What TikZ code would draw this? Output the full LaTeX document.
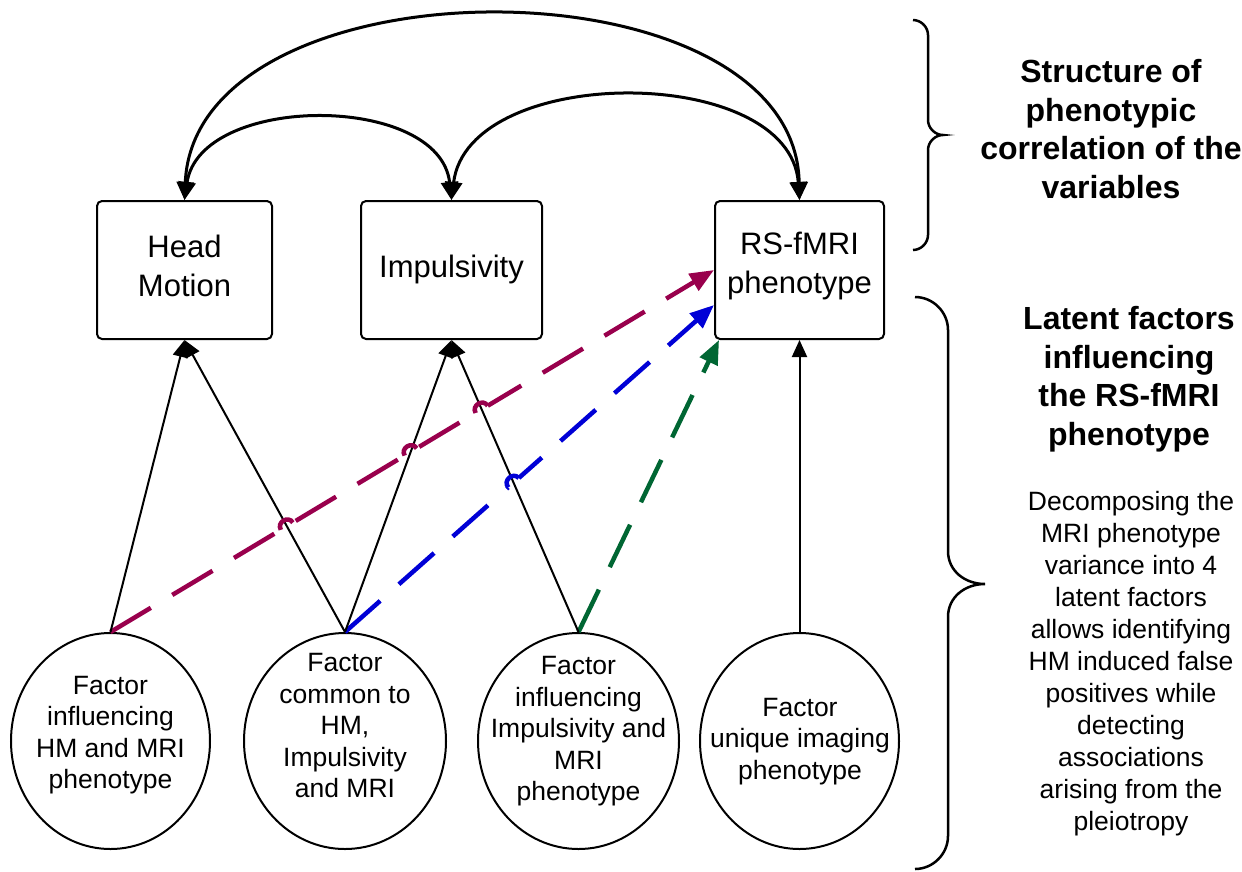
\documentclass[tikz,border=0pt]{standalone}
\usepackage{fontspec}
\setmainfont{Liberation Sans}
\usetikzlibrary{arrows.meta,calc,intersections,shapes.geometric}
\definecolor{magC}{RGB}{153,0,77}
\definecolor{bluC}{RGB}{0,0,214}
\definecolor{grnC}{RGB}{0,102,51}
\begin{document}
\begin{tikzpicture}[x=1pt,y=-1pt,
  box/.style={draw,line width=2pt,rounded corners=5pt,minimum height=138pt,inner sep=0pt},
  btxt/.style={align=center,inner sep=0pt,font=\fontsize{31}{39}\selectfont},
  fac/.style={draw,ellipse,line width=2pt,minimum width=199pt,minimum height=216pt,inner sep=0pt},
  ftxt/.style={align=center,inner sep=0pt,font=\fontsize{26.5}{31.5}\selectfont},
  para/.style={align=center,inner sep=0pt,font=\fontsize{26.5}{32}\selectfont},
  head/.style={align=center,inner sep=0pt,font=\fontsize{32}{38.5}\selectfont\bfseries},
  corr/.style={line width=3pt,{Triangle[length=18pt,width=17pt]}-{Triangle[length=18pt,width=17pt]}},
  infl/.style={line width=2pt,-{Triangle[length=17pt,width=15pt]}},
  lat/.style={line width=4.5pt,dash pattern=on 47pt off 25pt,-{Triangle[length=24pt,width=19pt]}},
  hopw/.style={white,line width=7pt},
  hop/.style={line width=4.5pt,bend left=90,looseness=1.6},
  brace/.style={line width=2.5pt}
]
\useasboundingbox (0,0) rectangle (1242,871);

% boxes
\node[box,minimum width=175pt] (hm) at (184.5,270) {};
\node[box,minimum width=181pt] (imp) at (451.5,270) {};
\node[box,minimum width=169pt] (rs) at (799.5,270) {};
\node[btxt] (hmT) at (184.5,266) {Head\\Motion};
\node[btxt] (impT) at (451.5,269) {Impulsivity};
\node[btxt] (rsT) at (799.5,266) {RS-fMRI\\phenotype};

% latent factor ellipses
\node[fac] (e1) at (110.5,741) {};
\node[fac,minimum width=202pt] (e2) at (345,741) {};
\node[fac,minimum width=201pt] (e3) at (578.5,741) {};
\node[fac] (e4) at (799.5,741) {};
\node[ftxt] (t1) at (110.5,735) {Factor\\influencing\\HM and MRI\\phenotype};
\node[ftxt] (t2) at (345,725.5) {Factor\\common to\\HM,\\Impulsivity\\and MRI};
\node[ftxt] (t3) at (578.5,731.5) {Factor\\influencing\\Impulsivity and\\MRI\\phenotype};
\node[ftxt] (t4) at (800,741.5) {Factor\\unique imaging\\phenotype};

% correlation arcs
\draw[corr] (hm.north) .. controls (195,-45) and (795,-45) .. (rs.north);
\draw[corr] (hm.north) .. controls (200,93) and (440,93) .. (imp.north);
\draw[corr] (imp.north) .. controls (468,63) and (790,63) .. (rs.north);

% invisible copies of black lines for intersections
\path[name path=b2] (e2.north) -- (hm.south);
\path[name path=b3] (e2.north) -- (imp.south);
\path[name path=b4] (e3.north) -- (imp.south);

% coloured dashed arrows
\coordinate (mEnd) at (rs.west);
\coordinate (bEnd) at ($(rs.south west)+(0,-35)$);
\coordinate (gEnd) at ($(rs.south west)+(5,0)$);
\draw[lat,magC,name path=m] (e1.north) -- (mEnd);
\draw[lat,bluC,name path=bl] (e2.north) -- (bEnd);
\draw[lat,grnC] (e3.north) -- (gEnd);

\path[name intersections={of=m and b2,by=x1}];
\path[name intersections={of=m and b3,by=x2}];
\path[name intersections={of=m and b4,by=x3}];
\path[name intersections={of=bl and b4,by=x4}];

\foreach \p/\s/\e in {x1/e1.north/mEnd,x2/e1.north/mEnd,x3/e1.north/mEnd,x4/e2.north/bEnd}{
  \draw[hopw] ($(\p)!7pt!(\s)$) -- ($(\p)!7pt!(\e)$);
}

% black influence arrows
\draw[infl] (e1.north) -- (hm.south);
\draw[infl] (e2.north) -- (hm.south);
\draw[infl] (e2.north) -- (imp.south);
\draw[infl] (e3.north) -- (imp.south);
\draw[infl] (e4.north) -- (rs.south);

% hops
\foreach \p in {x1,x2,x3}{
  \draw[hop,magC] ($(\p)!7pt!(e1.north)$) to ($(\p)!7pt!(mEnd)$);
}
\draw[hop,bluC] ($(x4)!7pt!(e2.north)$) to ($(x4)!7pt!(bEnd)$);

% braces
\draw[brace] (913,20) .. controls (921,20) and (928,27) .. (928,35) -- (928,120)
  .. controls (928,128) and (935,135) .. (943,135)
  .. controls (935,135) and (928,142) .. (928,150) -- (928,235)
  .. controls (928,243) and (921,250) .. (913,250);
\draw[brace] (915,297) .. controls (933,297) and (948,312) .. (948,330) -- (948,551)
  .. controls (948,571) and (965,584) .. (985,584)
  .. controls (965,584) and (948,597) .. (948,617) -- (948,836)
  .. controls (948,854) and (933,869) .. (915,869);

% right-hand texts
\node[head] (h1) at (1111,129) {Structure of\\phenotypic\\correlation of the\\variables};
\node[head] (h2) at (1129,379) {Latent factors\\influencing\\the RS-fMRI\\phenotype};
\node[para] (p1) at (1131,664) {Decomposing the\\MRI phenotype\\variance into 4\\latent factors\\allows identifying\\HM induced false\\positives while\\detecting\\associations\\arising from the\\pleiotropy};
\end{tikzpicture}
\end{document}
